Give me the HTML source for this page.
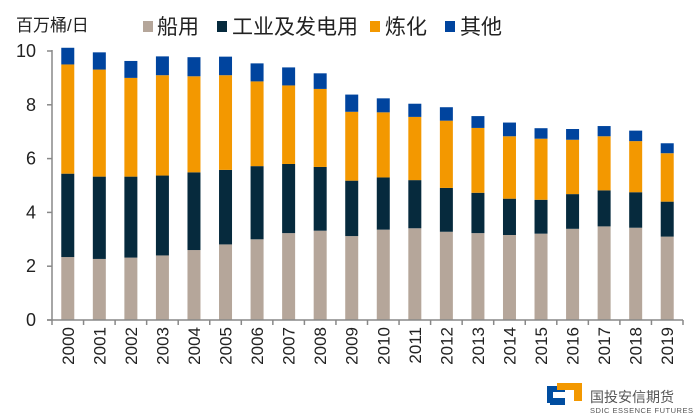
<!DOCTYPE html>
<html><head><meta charset="utf-8"><style>
body{margin:0;background:#fff;}
svg{display:block;font-family:"Liberation Sans","Noto Sans CJK SC",sans-serif;}
</style></head><body>
<svg id="chart" width="700" height="420" viewBox="0 0 700 420">
<text x="16" y="31" font-size="17" fill="#222">百万桶/日</text>
<g font-size="21" fill="#222">
<g><rect x="143" y="21" width="10" height="11" fill="#b5a69a"/><text x="157" y="34">船用</text></g>
<g><rect x="217" y="21" width="10" height="11" fill="#062a3d"/><text x="232" y="34">工业及发电用</text></g>
<g><rect x="370" y="21" width="10" height="11" fill="#f39800"/><text x="385" y="34">炼化</text></g>
<g><rect x="445" y="21" width="10" height="11" fill="#00449e"/><text x="460" y="34">其他</text></g>
</g>
<g id="plot"></g>
<g>
<path d="M547 386 h18 v6 h-12 v11 h-6z" fill="#004da0"/>
<path d="M557 383 h25 v18 h-8 v-11 h-17z" fill="#f39800"/>
<path d="M550 398 h15 v7 h-15z" fill="#004da0"/>
<text x="590" y="402" font-size="14" fill="#555">国投安信期货</text>
<text x="590" y="413" font-size="7.5" fill="#555" textLength="103">SDIC ESSENCE FUTURES</text>
</g>
</svg>
<script>
const years=["2000","2001","2002","2003","2004","2005","2006","2007","2008","2009","2010","2011","2012","2013","2014","2015","2016","2017","2018","2019"];
const ship=[2.34,2.27,2.32,2.40,2.60,2.81,3.00,3.23,3.32,3.12,3.36,3.41,3.28,3.23,3.16,3.21,3.39,3.48,3.43,3.10];
const industry=[3.10,3.06,3.01,2.97,2.89,2.77,2.72,2.57,2.37,2.06,1.94,1.79,1.63,1.50,1.35,1.26,1.29,1.34,1.32,1.30];
const refining=[4.06,3.98,3.67,3.73,3.57,3.52,3.15,2.92,2.90,2.56,2.42,2.35,2.50,2.41,2.32,2.27,2.02,2.01,1.90,1.80];
const other=[0.62,0.64,0.63,0.70,0.71,0.69,0.67,0.67,0.58,0.64,0.52,0.49,0.50,0.44,0.51,0.39,0.40,0.38,0.39,0.37];
const yTicks=[0,2,4,6,8,10];
const seriesNames=["ship","industry","refining","other"];
const colors=["#b5a69a","#062a3d","#f39800","#00449e"];
const x0=52,x1=683,yZero=320,pxPer=26.9,bw=13;
const band=(x1-x0)/years.length;
const xC=i=>x0+band*(i+0.5);
const yS=v=>yZero-v*pxPer;
const ns="http://www.w3.org/2000/svg";
const g=document.getElementById('plot');
function mk(t,a){const e=document.createElementNS(ns,t);for(const k in a)e.setAttribute(k,a[k]);g.appendChild(e);return e;}
const series=[ship,industry,refining,other];
years.forEach((y,i)=>{
 let base=0;
 series.forEach((s,k)=>{
  const r=mk('rect',{x:xC(i)-bw/2,y:yS(base+s[i]),width:bw,height:s[i]*pxPer,fill:colors[k]});
  
  
  base+=s[i];
 });
});
const ax=mk('line',{x1:x0,y1:yS(0),x2:x0,y2:yS(10)-1,stroke:'#888','stroke-width':1.5});


const xa=mk('line',{x1:x0-5,y1:yZero,x2:x1,y2:yZero,stroke:'#888','stroke-width':1.5});


yTicks.forEach(t=>{
 mk('line',{x1:x0-5,y1:yS(t),x2:x0,y2:yS(t),stroke:'#888','stroke-width':1.5});
 const tx=mk('text',{x:36,y:yS(t)+6,'font-size':18,'text-anchor':'end',fill:'#222'});
 tx.textContent=t;
 
 
});
for(let i=0;i<=years.length;i++){
 mk('line',{x1:x0+band*i,y1:yZero,x2:x0+band*i,y2:yZero+5,stroke:'#888','stroke-width':1.5});
}
years.forEach((y,i)=>{
 const tx=mk('text',{x:0,y:0,'font-size':17,'text-anchor':'end',fill:'#222',transform:`translate(${xC(i)+6},327) rotate(-90)`});
 tx.textContent=y;
 
 
});
</script>
</body></html>
